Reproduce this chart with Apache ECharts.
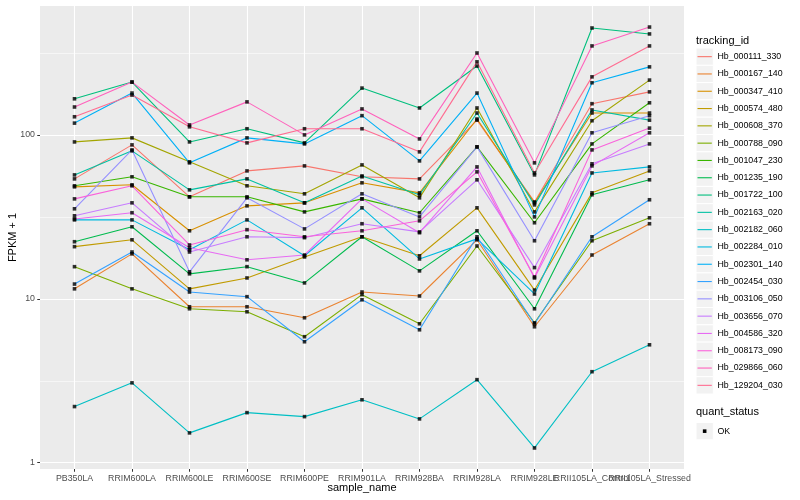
<!DOCTYPE html>
<html><head><meta charset="utf-8">
<script src="https://cdn.jsdelivr.net/npm/echarts@6/dist/echarts.min.js"></script>
<style>html,body{margin:0;padding:0;background:#fff}#c{width:800px;height:500px}</style>
</head><body><div id="c"></div>
<script>
// ---- data (values are FPKM + 1, as plotted) ----
const sampleNames = ['PB350LA','RRIM600LA','RRIM600LE','RRIM600SE','RRIM600PE','RRIM901LA','RRIM928BA','RRIM928LA','RRIM928LE','RRII105LA_Control','RRII105LA_Stressed'];
const trackingIds = ['Hb_000111_330','Hb_000167_140','Hb_000347_410','Hb_000574_480','Hb_000608_370','Hb_000788_090','Hb_001047_230','Hb_001235_190','Hb_001722_100','Hb_002163_020','Hb_002182_060','Hb_002284_010','Hb_002301_140','Hb_002454_030','Hb_003106_050','Hb_003656_070','Hb_004586_320','Hb_008173_090','Hb_029866_060','Hb_129204_030'];
const trackingColors = ['#F8766D','#EA8331','#D89000','#C09B00','#A3A500','#7CAE00','#39B600','#00BB4E','#00BF7D','#00C1A3','#00BFC4','#00BAE0','#00B0F6','#35A2FF','#9590FF','#C77CFF','#E76BF3','#FA62DB','#FF62BC','#FF6C91'];
const quantStatus = ['OK'];
const yTickValues = [1, 10, 100];
const yMinorValues = [3.1623, 31.623, 316.23];

const Hb_000111_330 = [53.9, 86.9, 41.9, 60.3, 64.7, 55.5, 53.9, 123, 39.0, 155, 183];
const Hb_000167_140 = [11.5, 18.8, 8.94, 8.94, 7.66, 11.0, 10.4, 22.9, 6.75, 18.5, 28.7];
const Hb_000347_410 = [48.2, 49.6, 26.0, 36.9, 38.5, 51.0, 44.3, 125, 38.5, 136, 136];
const Hb_000574_480 = [20.8, 22.9, 11.5, 13.4, 18.0, 23.9, 18.3, 35.9, 11.3, 44.3, 60.3];
const Hb_000608_370 = [90.6, 95.9, 68.5, 48.9, 43.7, 65.6, 41.3, 146, 33.9, 122, 216];
const Hb_000788_090 = [15.7, 11.5, 8.69, 8.33, 5.87, 10.6, 7.04, 21.0, 7.14, 22.6, 31.2];
const Hb_001047_230 = [48.9, 55.5, 41.9, 41.9, 33.9, 40.7, 33.5, 84.5, 29.1, 88.1, 157];
const Hb_001235_190 = [22.3, 27.5, 14.2, 15.7, 12.5, 23.9, 14.8, 26.0, 8.69, 43.1, 53.2];
const Hb_001722_100 = [166, 210, 90.6, 109, 89.4, 193, 146, 263, 57.0, 449, 413];
const Hb_002163_020 = [57.0, 79.9, 46.2, 53.9, 38.5, 56.2, 43.1, 136, 37.4, 142, 123];
const Hb_002182_060 = [2.20, 3.07, 1.52, 2.02, 1.91, 2.42, 1.85, 3.21, 1.23, 3.59, 5.24];
const Hb_002284_010 = [30.3, 30.3, 19.9, 30.3, 18.3, 35.9, 17.5, 23.2, 10.7, 58.6, 63.8];
const Hb_002301_140 = [118, 180, 67.5, 95.9, 88.1, 131, 69.4, 180, 31.6, 208, 260];
const Hb_002454_030 = [12.3, 19.3, 11.0, 10.3, 5.47, 9.86, 6.47, 23.9, 7.04, 23.9, 40.2];
const Hb_003106_050 = [35.4, 81.0, 14.6, 41.3, 26.7, 43.7, 31.6, 84.5, 22.6, 103, 131];
const Hb_003656_070 = [32.1, 38.5, 19.3, 23.9, 23.6, 28.7, 25.6, 53.2, 15.5, 66.6, 88.1];
const Hb_004586_320 = [30.7, 33.5, 20.5, 17.3, 18.5, 40.7, 25.3, 63.8, 13.4, 64.7, 103];
const Hb_008173_090 = [40.7, 48.9, 21.3, 26.4, 23.9, 26.0, 29.9, 59.5, 13.6, 81.0, 110];
const Hb_029866_060 = [148, 210, 115, 159, 100, 144, 94.5, 316, 67.5, 349, 455];
const Hb_129204_030 = [129, 175, 112, 89.4, 109, 109, 78.8, 279, 58.6, 226, 349];

const seriesValues = [Hb_000111_330, Hb_000167_140, Hb_000347_410, Hb_000574_480, Hb_000608_370,
  Hb_000788_090, Hb_001047_230, Hb_001235_190, Hb_001722_100, Hb_002163_020, Hb_002182_060,
  Hb_002284_010, Hb_002301_140, Hb_002454_030, Hb_003106_050, Hb_003656_070, Hb_004586_320,
  Hb_008173_090, Hb_029866_060, Hb_129204_030];

// ---- scales (ggplot-like 5% expansion in log space, 0.6 on discrete axis) ----
const allVals = seriesValues.flat();
const lo = Math.log10(Math.min(...allVals)), hi = Math.log10(Math.max(...allVals));
const pad = (hi - lo) * 0.05;
const yMin = Math.pow(10, lo - pad), yMax = Math.pow(10, hi + pad);
const xIdx = sampleNames.map((_, i) => i);
const xEven = xIdx.filter(i => i % 2 === 0);
const xOdd = xIdx.filter(i => i % 2 === 1);

const FONT = '"Liberation Sans", Arial, Helvetica, sans-serif';
const KEY = 17.3, KEY_X = 696, KEY_TOP = 48, TXT_X = 717.5;

const chart = echarts.init(document.getElementById('c'), null, {renderer: 'canvas'});

const lineSeries = trackingIds.map((id, k) => ({
  name: id, type: 'line', z: 3, silent: true, animation: false,
  xAxisIndex: 0, yAxisIndex: 0,
  color: trackingColors[k],
  symbol: 'none', showSymbol: false,
  lineStyle: {width: 1.1, color: trackingColors[k]},
  data: seriesValues[k].map((v, i) => [i, v])
}));

const pointSeries = {
  name: quantStatus[0], type: 'scatter', z: 4, silent: true, animation: false,
  xAxisIndex: 0, yAxisIndex: 0,
  symbol: 'rect', symbolSize: 3.6, itemStyle: {color: '#000'},
  data: seriesValues.flatMap(arr => arr.map((v, i) => [i, v])),
  markLine: {
    silent: true, z: 1, animation: false, symbol: ['none', 'none'],
    label: {show: false}, emphasis: {disabled: true},
    lineStyle: {color: '#ffffff', width: 0.55, type: 'solid'},
    data: yMinorValues.map(v => ({yAxis: v}))
  }
};

// ---- legends (ggplot-style keys) ----
const graphics = [];
graphics.push({type: 'text', silent: true, x: KEY_X, y: 40.7,
  style: {text: 'tracking_id', font: '11px ' + FONT, fill: '#000', textVerticalAlign: 'middle'}});
trackingIds.forEach((id, i) => {
  const y0 = KEY_TOP + i * KEY;
  graphics.push({type: 'rect', silent: true,
    shape: {x: KEY_X, y: y0, width: KEY, height: KEY},
    style: {fill: '#F2F2F2', stroke: '#ffffff', lineWidth: 1}});
  graphics.push({type: 'line', silent: true,
    shape: {x1: KEY_X + 1.5, y1: y0 + KEY / 2, x2: KEY_X + KEY - 1.5, y2: y0 + KEY / 2},
    style: {stroke: trackingColors[i], lineWidth: 1.1}});
  graphics.push({type: 'text', silent: true, x: TXT_X, y: y0 + KEY / 2,
    style: {text: id, font: '8.8px ' + FONT, fill: '#000', textVerticalAlign: 'middle'}});
});
graphics.push({type: 'text', silent: true, x: KEY_X, y: 411.5,
  style: {text: 'quant_status', font: '11px ' + FONT, fill: '#000', textVerticalAlign: 'middle'}});
graphics.push({type: 'rect', silent: true,
  shape: {x: KEY_X, y: 422.5, width: KEY, height: KEY},
  style: {fill: '#F2F2F2', stroke: '#ffffff', lineWidth: 1}});
graphics.push({type: 'rect', silent: true,
  shape: {x: KEY_X + KEY / 2 - 1.8, y: 422.5 + KEY / 2 - 1.8, width: 3.6, height: 3.6},
  style: {fill: '#000'}});
graphics.push({type: 'text', silent: true, x: TXT_X, y: 422.5 + KEY / 2,
  style: {text: quantStatus[0], font: '8.8px ' + FONT, fill: '#000', textVerticalAlign: 'middle'}});

const xLabelStyle = {margin: 5, fontSize: 8.8, color: '#4D4D4D', fontFamily: FONT,
  hideOverlap: false, formatter: v => sampleNames[Math.round(v)]};

chart.setOption({
  animation: false,
  backgroundColor: '#ffffff',
  textStyle: {fontFamily: FONT},
  grid: {left: 40, right: 116, top: 6, bottom: 31, containLabel: false, outerBoundsMode: 'none',
    show: true, backgroundColor: '#EBEBEB', borderWidth: 0},
  xAxis: [{
    type: 'value', min: -0.6, max: sampleNames.length - 1 + 0.6, position: 'bottom',
    name: 'sample_name', nameLocation: 'middle', nameGap: 13, nameMoveOverlap: false,
    nameTextStyle: {fontSize: 11, color: '#000', fontFamily: FONT},
    axisLine: {show: false, onZero: false},
    axisTick: {show: true, length: 2.75, customValues: xIdx, lineStyle: {color: '#333333', width: 1}},
    axisLabel: Object.assign({show: true, customValues: xEven}, xLabelStyle),
    splitLine: {show: true, lineStyle: {color: '#ffffff', width: 1.1}},
    minorSplitLine: {show: false}
  }, {
    type: 'value', min: -0.6, max: sampleNames.length - 1 + 0.6, position: 'bottom', offset: 0,
    axisLine: {show: false, onZero: false},
    axisTick: {show: false},
    axisLabel: Object.assign({show: true, customValues: xOdd}, xLabelStyle),
    splitLine: {show: false}
  }],
  yAxis: {
    type: 'log', logBase: 10, min: yMin, max: yMax,
    name: 'FPKM + 1', nameLocation: 'middle', nameGap: 22, nameMoveOverlap: false,
    nameTextStyle: {fontSize: 11, color: '#000', fontFamily: FONT},
    axisLine: {show: false, onZero: false},
    axisTick: {show: true, length: 2.75, customValues: yTickValues, lineStyle: {color: '#333333', width: 1}},
    axisLabel: {show: true, customValues: yTickValues, margin: 5, fontSize: 8.8, color: '#4D4D4D', fontFamily: FONT,
      formatter: v => String(Math.round(v))},
    splitLine: {show: true, lineStyle: {color: '#ffffff', width: 1.1}}
  },
  graphic: graphics,
  series: [...lineSeries, pointSeries]
});
</script>
</body></html>
